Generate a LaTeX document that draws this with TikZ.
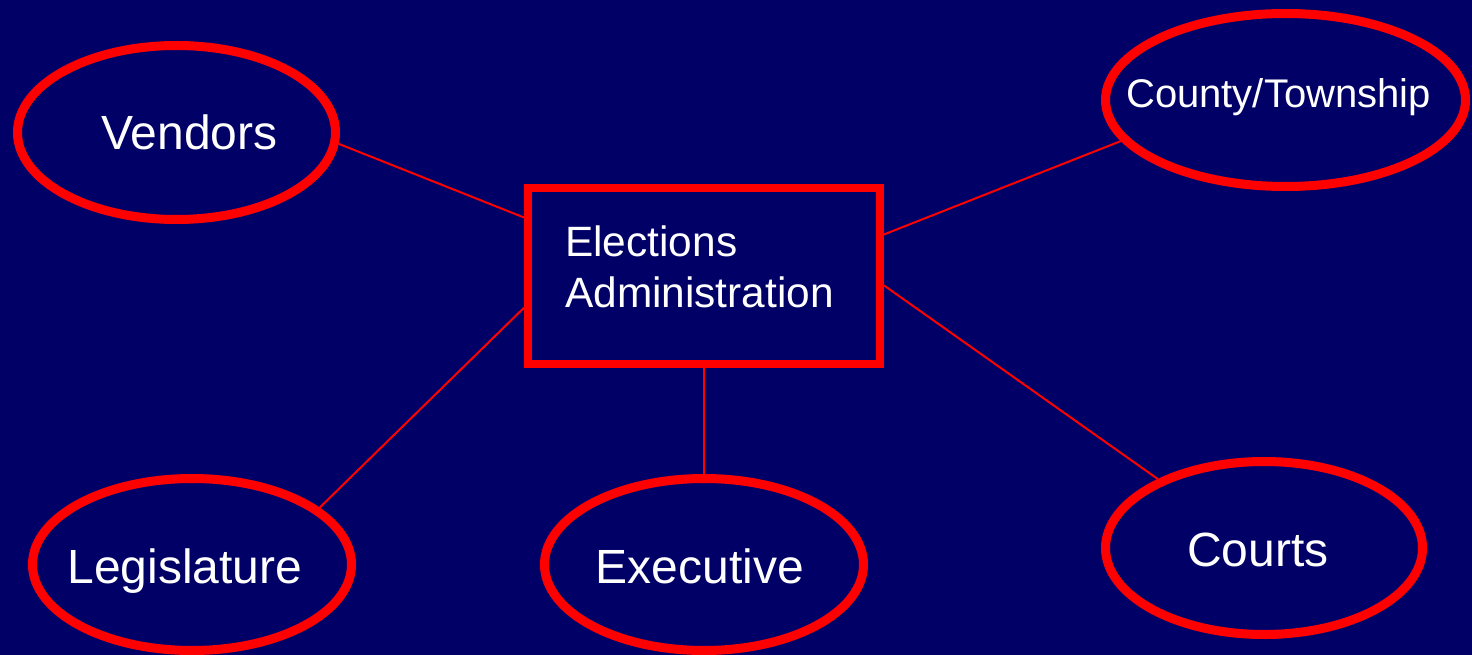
\documentclass[tikz,border=0pt]{standalone}
\usepackage{fontspec}
\setmainfont{Liberation Sans}
\usetikzlibrary{shapes.geometric}
\definecolor{bgnavy}{RGB}{0,0,102}
\definecolor{linered}{RGB}{255,0,0}
\tikzset{
  party/.style={ellipse, draw=linered, line width=9pt, inner sep=0pt},
  hub/.style={rectangle, draw=linered, line width=8pt, inner sep=0pt},
  big/.style={text=white, inner sep=0pt, anchor=base, font=\fontsize{48}{52}\selectfont},
  mid/.style={text=white, inner sep=0pt, anchor=base, font=\fontsize{40}{44}\selectfont},
  link/.style={draw=linered, line width=2pt},
}
\begin{document}
\begin{tikzpicture}[x=1pt,y=-1pt]
  \fill[bgnavy] (0,0) rectangle (1472,655);
  \useasboundingbox (0,0) rectangle (1472,655);

  \node[hub, minimum width=352pt, minimum height=176pt] (admin) at (704,276) {};
  \node[text=white, inner sep=0pt, anchor=base west, align=left,
        font=\fontsize{42.4}{51}\selectfont] (adminT) at (565,307) {Elections\\Administration};

  \node[party, minimum width=318pt, minimum height=174pt] (vendors) at (176.5,132.5) {};
  \node[big] (vendorsT) at (189.5,150) {Vendors};

  \node[party, minimum width=360pt, minimum height=173pt] (county) at (1285.5,100) {};
  \node[mid] (countyT) at (1278.5,108) {County/Township};

  \node[party, minimum width=319pt, minimum height=172pt] (legis) at (192,564.5) {};
  \node[big] (legisT) at (185,583) {Legislature};

  \node[party, minimum width=319pt, minimum height=172pt] (exec) at (704,564.5) {};
  \node[big] (execT) at (700,583) {Executive};

  \node[party, minimum width=317pt, minimum height=173pt] (courts) at (1264,548) {};
  \node[big] (courtsT) at (1258,566) {Courts};

  \draw[link] (vendors.-4) -- (admin.162);
  \draw[link] (admin.13.3) -- (county.-166);
  \draw[link] (admin.-170.7) -- (legis.24.4);
  \draw[link] (admin.south) -- (exec.north);
  \draw[link] (admin.-3.9) -- (courts.147.3);
\end{tikzpicture}
\end{document}
